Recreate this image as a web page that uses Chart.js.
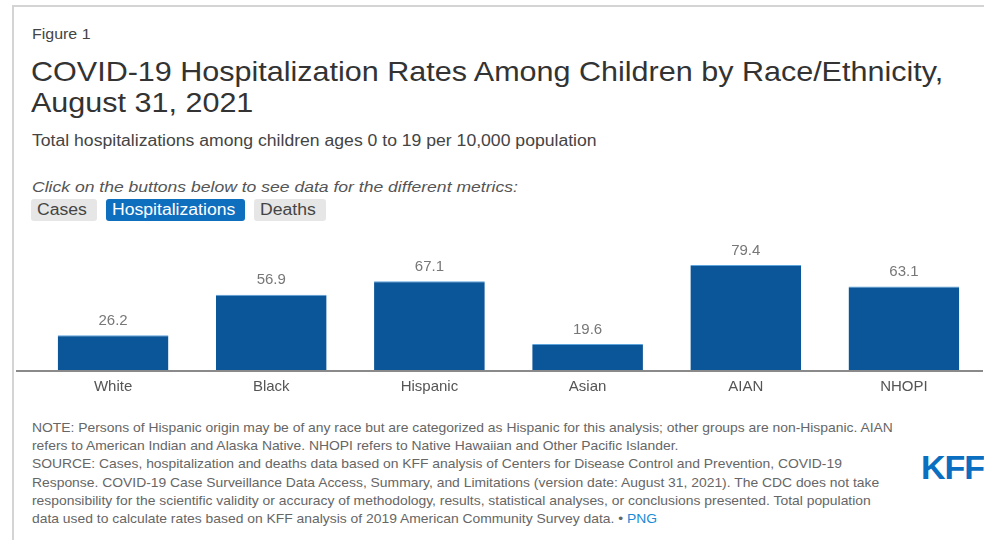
<!DOCTYPE html>
<html>
<head>
<meta charset="utf-8">
<script src="https://cdn.jsdelivr.net/npm/chart.js@4/dist/chart.umd.min.js"></script>
<style>
  html, body { margin: 0; padding: 0; background: #fff; }
  body { width: 984px; height: 540px; position: relative; overflow: hidden;
         font-family: "Liberation Sans", Arial, Helvetica, sans-serif; }
  .card { position: absolute; left: 12px; top: 5px; width: 990px; height: 560px;
          border-top: 2px solid #d4d4d4; border-left: 2px solid #d4d4d4; }
  .abs { position: absolute; white-space: nowrap; transform-origin: 0 0; }
  #fig { left: 32px; top: 26px; font-size: 14px; color: #444; transform: scaleX(1.14); }
  #title { left: 31px; top: 56px; font-size: 27.5px; line-height: 31px; color: #333; transform: scaleX(1.11); }
  #sub { left: 32px; top: 132px; font-size: 16px; color: #444; transform: scaleX(1.1); }
  #hint { left: 32px; top: 178px; font-size: 15px; color: #555; font-style: italic; transform: scaleX(1.17); }
  .btn { position: absolute; top: 199px; height: 22px; border-radius: 3px; }
  .btn span { position: absolute; left: 6px; top: 0; line-height: 22px; font-size: 16px;
              white-space: nowrap; transform-origin: 0 0; transform: scaleX(1.1); }
  .off { background: #e6e6e6; color: #444; }
  .on { background: #0f6fbf; color: #fff; }
  #notes { left: 32px; top: 419px; font-size: 12.4px; line-height: 18.2px; color: #666; transform: scaleX(1.12); }
  #notes a { color: #1a8ad4; text-decoration: none; }
  #kff { left: 921px; top: 448px; font-size: 34px; font-weight: bold; color: #0b6fc1;
         font-family: "Liberation Sans Narrow", "Arial Narrow", "Liberation Sans", sans-serif;
         letter-spacing: -1px; }
  #wrap { position: absolute; left: 0; top: 240px; width: 984px; height: 170px; }
</style>
</head>
<body>
<div class="card"></div>
<div class="abs" id="fig">Figure 1</div>
<div class="abs" id="title">COVID-19 Hospitalization Rates Among Children by Race/Ethnicity,<br>August 31, 2021</div>
<div class="abs" id="sub">Total hospitalizations among children ages 0 to 19 per 10,000 population</div>
<div class="abs" id="hint">Click on the buttons below to see data for the different metrics:</div>
<div class="btn off" style="left:31px;width:66px;"><span>Cases</span></div>
<div class="btn on" style="left:106px;width:139px;"><span>Hospitalizations</span></div>
<div class="btn off" style="left:254px;width:72px;"><span>Deaths</span></div>
<div id="wrap"><canvas id="chart" width="984" height="170"></canvas></div>
<div class="abs" id="notes">NOTE: Persons of Hispanic origin may be of any race but are categorized as Hispanic for this analysis; other groups are non-Hispanic. AIAN<br>refers to American Indian and Alaska Native. NHOPI refers to Native Hawaiian and Other Pacific Islander.<br>SOURCE: Cases, hospitalization and deaths data based on KFF analysis of Centers for Disease Control and Prevention, COVID-19<br>Response. COVID-19 Case Surveillance Data Access, Summary, and Limitations (version date: August 31, 2021). The CDC does not take<br>responsibility for the scientific validity or accuracy of methodology, results, statistical analyses, or conclusions presented. Total population<br>data used to calculate rates based on KFF analysis of 2019 American Community Survey data. &bull; <a>PNG</a></div>
<div class="abs" id="kff">KFF</div>

<script>
// Hospitalizations per 10,000 children ages 0-19
const groups = ["White", "Black", "Hispanic", "Asian", "AIAN", "NHOPI"];
const hospitalizationRates = [26.2, 56.9, 67.1, 19.6, 79.4, 63.1];

// Value labels above each bar plus a baseline that runs under the whole row
const barDecor = {
  id: "barDecor",
  afterDatasetsDraw(chart) {
    const ctx = chart.ctx;
    const area = chart.chartArea;
    ctx.save();
    ctx.strokeStyle = "#8a8a8a";
    ctx.lineWidth = 2;
    ctx.beginPath();
    ctx.moveTo(16, area.bottom + 1);
    ctx.lineTo(983, area.bottom + 1);
    ctx.stroke();

    ctx.fillStyle = "#777";
    ctx.font = '15px "Liberation Sans", Arial, sans-serif';
    ctx.textAlign = "center";
    ctx.textBaseline = "bottom";
    const meta = chart.getDatasetMeta(0);
    meta.data.forEach((bar, i) => {
      const v = chart.data.datasets[0].data[i];
      ctx.fillText(v.toFixed(1), bar.x, bar.y - 7);
    });
    ctx.restore();
  }
};

new Chart(document.getElementById("chart"), {
  type: "bar",
  data: {
    labels: groups,
    datasets: [{
      data: hospitalizationRates,
      backgroundColor: "#0b5699",
      borderColor: "#5ea4dc",
      borderWidth: { top: 1, left: 0, right: 0, bottom: 0 },
      borderSkipped: false,
      barPercentage: 0.70,
      categoryPercentage: 1.0
    }]
  },
  options: {
    responsive: false,
    animation: false,
    events: [],
    layout: { padding: { left: 34, right: 1, top: 11, bottom: 10 } },
    plugins: { legend: { display: false }, tooltip: { enabled: false } },
    scales: {
      y: { display: false, min: 0, max: 90 },
      x: {
        grid: { display: false, drawTicks: false },
        border: { display: false },
        ticks: { color: "#555", padding: 8,
                 font: { size: 15, family: '"Liberation Sans", Arial, sans-serif' } },
        afterFit(scale) { scale.height = 30; }
      }
    }
  },
  plugins: [barDecor]
});
</script>
</body>
</html>
